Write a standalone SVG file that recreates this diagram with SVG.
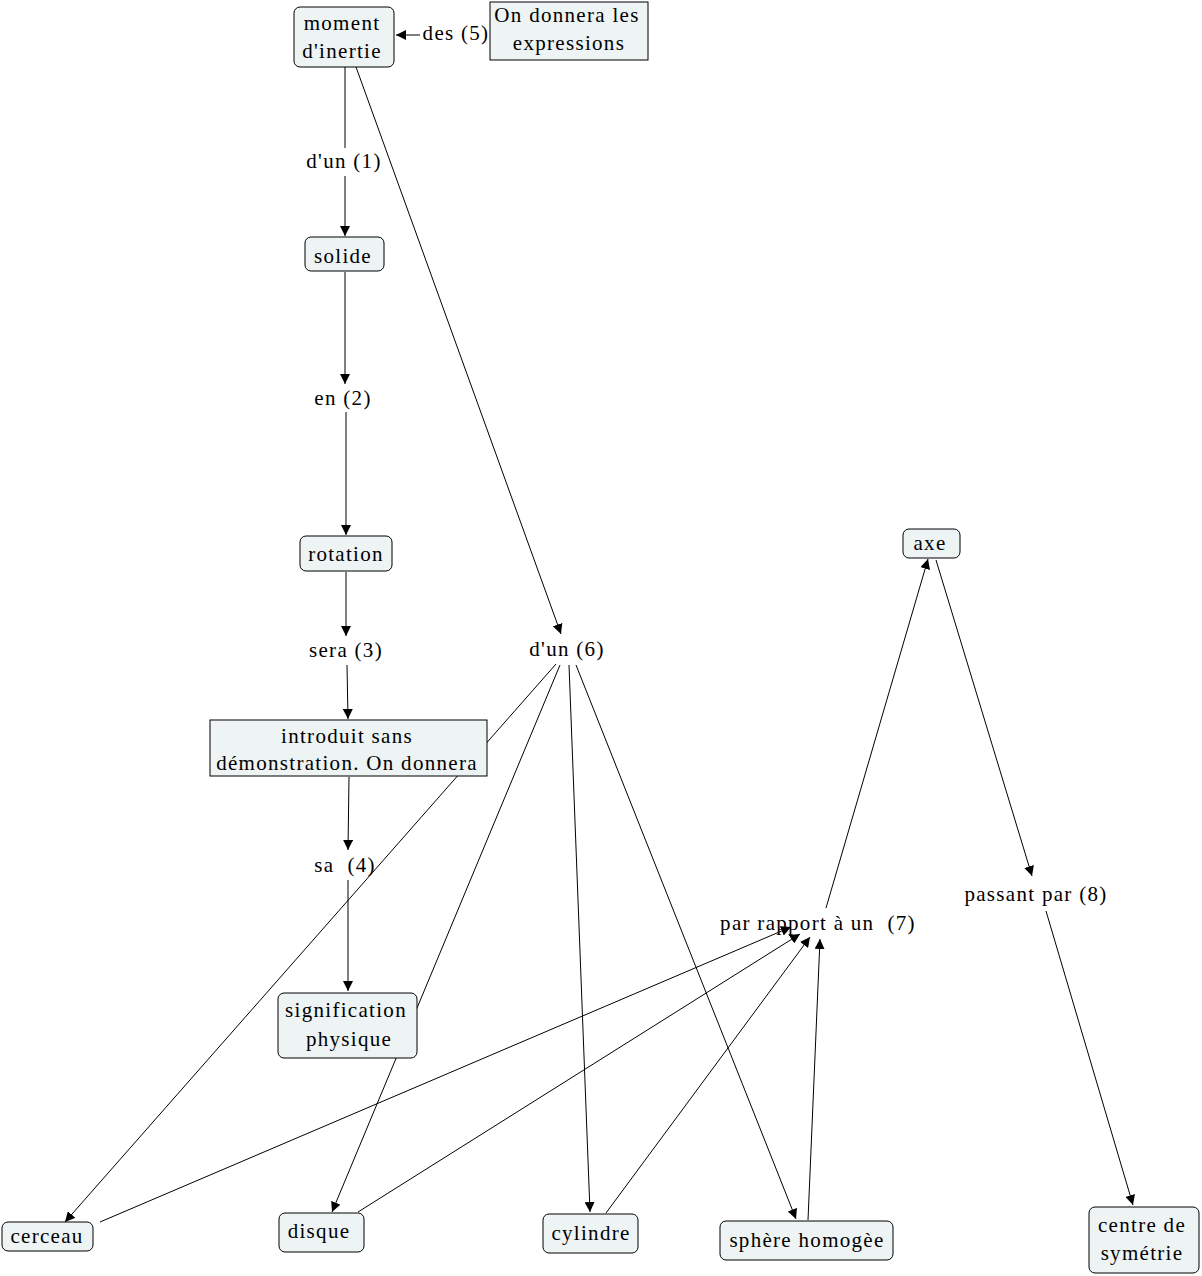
<svg xmlns="http://www.w3.org/2000/svg" width="1202" height="1276" viewBox="0 0 1202 1276">
<defs>
<marker id="ah" viewBox="0 0 10 10" refX="10" refY="5" markerWidth="10" markerHeight="10" markerUnits="userSpaceOnUse" orient="auto">
<path d="M0,0 L10,5 L0,10 z" fill="#000"/>
</marker>
<style>
.n{fill:#eef3f4;stroke:#000;stroke-width:1}
.t{font-family:"Liberation Serif","Times New Roman",serif;font-size:21px;letter-spacing:1.3px;fill:#000;text-anchor:middle;white-space:pre}
.c line{stroke:#000;stroke-width:1;fill:none}
.c line.a{marker-end:url(#ah)}
</style>
</defs>
<rect width="1202" height="1276" fill="#fff"/>
<g class="c" id="connectors">
<line x1="345" y1="67" x2="345" y2="148"/>
<line class="a" x1="345" y1="176" x2="345" y2="236"/>
<line class="a" x1="345" y1="272" x2="345" y2="384"/>
<line class="a" x1="346" y1="412" x2="346" y2="535"/>
<line class="a" x1="346" y1="572" x2="346" y2="636"/>
<line class="a" x1="347" y1="665" x2="348" y2="719"/>
<line class="a" x1="349" y1="777" x2="348" y2="850"/>
<line class="a" x1="348" y1="880" x2="348" y2="991"/>
<line class="a" x1="356" y1="67" x2="561" y2="634"/>
<line class="a" x1="420" y1="35" x2="396" y2="35"/>
<line class="a" x1="556" y1="664" x2="65" y2="1222"/>
<line class="a" x1="560" y1="665" x2="332" y2="1212"/>
<line class="a" x1="569" y1="665" x2="590" y2="1212"/>
<line class="a" x1="576" y1="665" x2="796" y2="1219"/>
<line class="a" x1="100" y1="1222" x2="791" y2="927"/>
<line class="a" x1="358" y1="1212" x2="800" y2="934"/>
<line class="a" x1="606" y1="1213" x2="810" y2="937"/>
<line class="a" x1="808" y1="1220" x2="820" y2="939"/>
<line class="a" x1="826" y1="908" x2="928" y2="559"/>
<line class="a" x1="936" y1="560" x2="1032" y2="876"/>
<line class="a" x1="1046" y1="911" x2="1133" y2="1205"/>
</g>
<g id="moment"><rect class="n" x="294" y="7" width="100" height="60" rx="6"/><text class="t" x="342" y="30">moment</text><text class="t" x="342" y="58">d'inertie</text></g>
<g id="ondonnera"><rect class="n" x="490" y="2" width="158" height="58"/><text class="t" x="567" y="22">On donnera les</text><text class="t" x="569" y="50">expressions</text></g>
<g id="des5"><text class="t" x="456" y="40">des (5)</text></g>
<g id="dun1"><text class="t" x="344" y="168">d'un (1)</text></g>
<g id="solide"><rect class="n" x="305" y="237" width="79" height="34" rx="6"/><text class="t" x="343" y="263">solide</text></g>
<g id="en2"><text class="t" x="343" y="405">en (2)</text></g>
<g id="rotation"><rect class="n" x="300" y="536" width="92" height="35" rx="6"/><text class="t" x="346" y="561">rotation</text></g>
<g id="sera3"><text class="t" x="346" y="657">sera (3)</text></g>
<g id="introduit"><rect class="n" x="210" y="720" width="277" height="56"/><text class="t" x="347" y="743">introduit sans</text><text class="t" x="347" y="770">démonstration. On donnera</text></g>
<g id="sa4"><text class="t" x="345" y="872">sa  (4)</text></g>
<g id="signification"><rect class="n" x="278" y="993" width="139" height="65" rx="6"/><text class="t" x="346" y="1017">signification</text><text class="t" x="349" y="1046">physique</text></g>
<g id="dun6"><text class="t" x="567" y="656">d'un (6)</text></g>
<g id="axe"><rect class="n" x="903" y="529" width="57" height="29" rx="6"/><text class="t" x="930" y="550">axe</text></g>
<g id="parrapport7"><text class="t" x="818" y="930">par rapport à un  (7)</text></g>
<g id="passant8"><text class="t" x="1036" y="901">passant par (8)</text></g>
<g id="cerceau"><rect class="n" x="2" y="1222" width="91" height="29" rx="6"/><text class="t" x="47" y="1243">cerceau</text></g>
<g id="disque"><rect class="n" x="279" y="1213" width="85" height="39" rx="6"/><text class="t" x="319" y="1238">disque</text></g>
<g id="cylindre"><rect class="n" x="543" y="1214" width="95" height="39" rx="6"/><text class="t" x="591" y="1240">cylindre</text></g>
<g id="sphere"><rect class="n" x="720" y="1221" width="173" height="39" rx="6"/><text class="t" x="807" y="1247">sphère homogèe</text></g>
<g id="centre"><rect class="n" x="1089" y="1207" width="110" height="66" rx="6"/><text class="t" x="1142" y="1232">centre de</text><text class="t" x="1142" y="1260">symétrie</text></g>
</svg>
